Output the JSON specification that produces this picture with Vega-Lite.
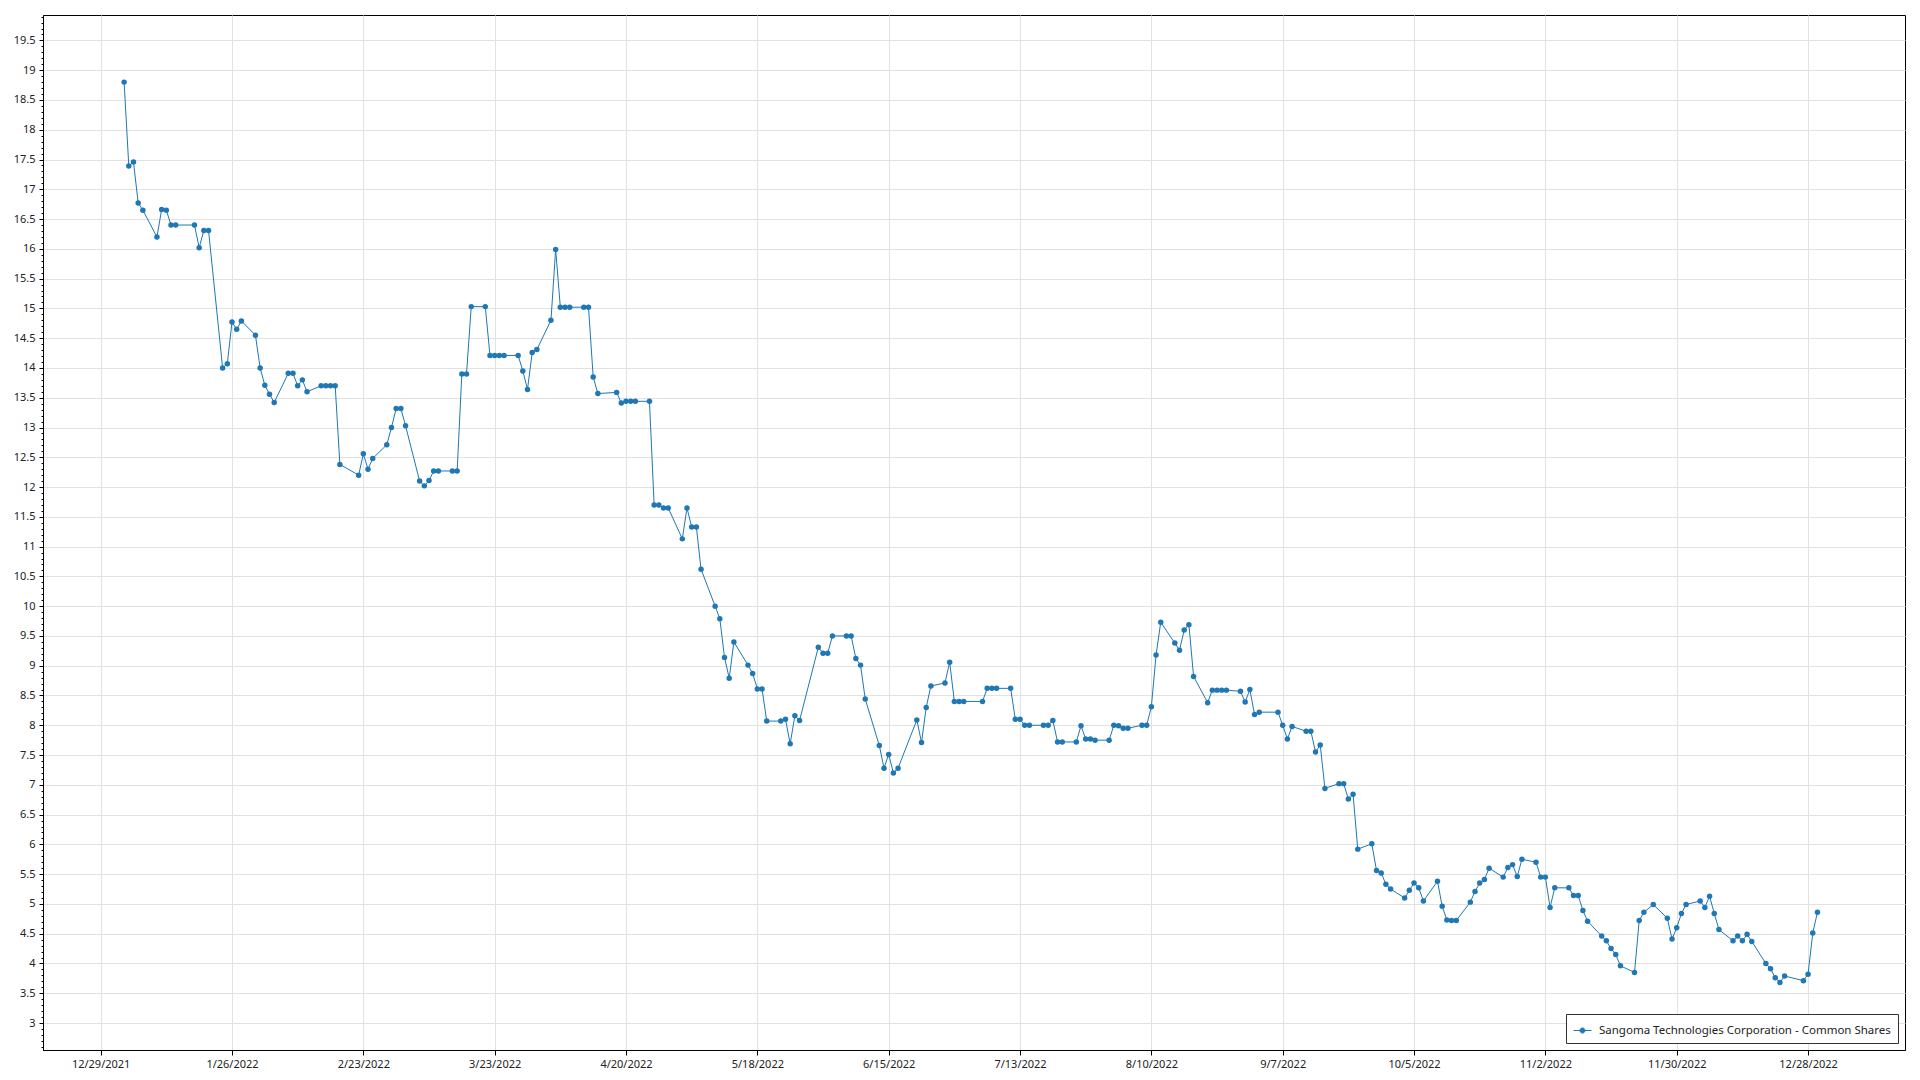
{
  "$schema": "https://vega.github.io/schema/vega-lite/v6.json",
  "width": 1862,
  "height": 1035,
  "autosize": {"type": "none"},
  "padding": {"left": 43, "top": 15, "right": 15, "bottom": 30},
  "background": "white",
  "data": {"values": [
    {"date":"2022-01-03","price":18.80},{"date":"2022-01-04","price":17.39},{"date":"2022-01-05","price":17.46},{"date":"2022-01-06","price":16.77},{"date":"2022-01-07","price":16.65},
    {"date":"2022-01-10","price":16.20},{"date":"2022-01-11","price":16.66},{"date":"2022-01-12","price":16.65},{"date":"2022-01-13","price":16.40},{"date":"2022-01-14","price":16.40},
    {"date":"2022-01-18","price":16.40},{"date":"2022-01-19","price":16.02},{"date":"2022-01-20","price":16.31},{"date":"2022-01-21","price":16.31},
    {"date":"2022-01-24","price":14.00},{"date":"2022-01-25","price":14.07},{"date":"2022-01-26","price":14.77},{"date":"2022-01-27","price":14.65},{"date":"2022-01-28","price":14.79},
    {"date":"2022-01-31","price":14.55},{"date":"2022-02-01","price":14.00},{"date":"2022-02-02","price":13.71},{"date":"2022-02-03","price":13.56},{"date":"2022-02-04","price":13.42},
    {"date":"2022-02-07","price":13.91},{"date":"2022-02-08","price":13.91},{"date":"2022-02-09","price":13.70},{"date":"2022-02-10","price":13.80},{"date":"2022-02-11","price":13.60},
    {"date":"2022-02-14","price":13.70},{"date":"2022-02-15","price":13.70},{"date":"2022-02-16","price":13.70},{"date":"2022-02-17","price":13.70},{"date":"2022-02-18","price":12.38},
    {"date":"2022-02-22","price":12.20},{"date":"2022-02-23","price":12.56},{"date":"2022-02-24","price":12.30},{"date":"2022-02-25","price":12.48},
    {"date":"2022-02-28","price":12.71},{"date":"2022-03-01","price":13.00},{"date":"2022-03-02","price":13.32},{"date":"2022-03-03","price":13.32},{"date":"2022-03-04","price":13.03},
    {"date":"2022-03-07","price":12.10},{"date":"2022-03-08","price":12.02},{"date":"2022-03-09","price":12.11},{"date":"2022-03-10","price":12.27},{"date":"2022-03-11","price":12.27},
    {"date":"2022-03-14","price":12.27},{"date":"2022-03-15","price":12.27},{"date":"2022-03-16","price":13.90},{"date":"2022-03-17","price":13.90},{"date":"2022-03-18","price":15.03},
    {"date":"2022-03-21","price":15.03},{"date":"2022-03-22","price":14.21},{"date":"2022-03-23","price":14.21},{"date":"2022-03-24","price":14.21},{"date":"2022-03-25","price":14.21},
    {"date":"2022-03-28","price":14.21},{"date":"2022-03-29","price":13.95},{"date":"2022-03-30","price":13.64},{"date":"2022-03-31","price":14.26},{"date":"2022-04-01","price":14.31},
    {"date":"2022-04-04","price":14.80},{"date":"2022-04-05","price":15.99},{"date":"2022-04-06","price":15.02},{"date":"2022-04-07","price":15.02},{"date":"2022-04-08","price":15.02},
    {"date":"2022-04-11","price":15.02},{"date":"2022-04-12","price":15.02},{"date":"2022-04-13","price":13.85},{"date":"2022-04-14","price":13.57},
    {"date":"2022-04-18","price":13.59},{"date":"2022-04-19","price":13.41},{"date":"2022-04-20","price":13.44},{"date":"2022-04-21","price":13.44},{"date":"2022-04-22","price":13.44},
    {"date":"2022-04-25","price":13.44},{"date":"2022-04-26","price":11.70},{"date":"2022-04-27","price":11.70},{"date":"2022-04-28","price":11.65},{"date":"2022-04-29","price":11.65},
    {"date":"2022-05-02","price":11.13},{"date":"2022-05-03","price":11.65},{"date":"2022-05-04","price":11.33},{"date":"2022-05-05","price":11.33},{"date":"2022-05-06","price":10.62},
    {"date":"2022-05-09","price":10.00},{"date":"2022-05-10","price":9.79},{"date":"2022-05-11","price":9.14},{"date":"2022-05-12","price":8.79},{"date":"2022-05-13","price":9.40},
    {"date":"2022-05-16","price":9.01},{"date":"2022-05-17","price":8.87},{"date":"2022-05-18","price":8.61},{"date":"2022-05-19","price":8.61},{"date":"2022-05-20","price":8.07},
    {"date":"2022-05-23","price":8.07},{"date":"2022-05-24","price":8.10},{"date":"2022-05-25","price":7.69},{"date":"2022-05-26","price":8.16},{"date":"2022-05-27","price":8.08},
    {"date":"2022-05-31","price":9.31},{"date":"2022-06-01","price":9.21},{"date":"2022-06-02","price":9.21},{"date":"2022-06-03","price":9.50},
    {"date":"2022-06-06","price":9.50},{"date":"2022-06-07","price":9.50},{"date":"2022-06-08","price":9.12},{"date":"2022-06-09","price":9.01},{"date":"2022-06-10","price":8.44},
    {"date":"2022-06-13","price":7.66},{"date":"2022-06-14","price":7.28},{"date":"2022-06-15","price":7.51},{"date":"2022-06-16","price":7.20},{"date":"2022-06-17","price":7.28},
    {"date":"2022-06-21","price":8.09},{"date":"2022-06-22","price":7.71},{"date":"2022-06-23","price":8.30},{"date":"2022-06-24","price":8.66},
    {"date":"2022-06-27","price":8.71},{"date":"2022-06-28","price":9.06},{"date":"2022-06-29","price":8.40},{"date":"2022-06-30","price":8.40},{"date":"2022-07-01","price":8.40},
    {"date":"2022-07-05","price":8.40},{"date":"2022-07-06","price":8.62},{"date":"2022-07-07","price":8.62},{"date":"2022-07-08","price":8.62},
    {"date":"2022-07-11","price":8.62},{"date":"2022-07-12","price":8.10},{"date":"2022-07-13","price":8.10},{"date":"2022-07-14","price":8.00},{"date":"2022-07-15","price":8.00},
    {"date":"2022-07-18","price":8.00},{"date":"2022-07-19","price":8.00},{"date":"2022-07-20","price":8.08},{"date":"2022-07-21","price":7.72},{"date":"2022-07-22","price":7.72},
    {"date":"2022-07-25","price":7.72},{"date":"2022-07-26","price":7.99},{"date":"2022-07-27","price":7.77},{"date":"2022-07-28","price":7.77},{"date":"2022-07-29","price":7.75},
    {"date":"2022-08-01","price":7.75},{"date":"2022-08-02","price":8.00},{"date":"2022-08-03","price":7.99},{"date":"2022-08-04","price":7.95},{"date":"2022-08-05","price":7.95},
    {"date":"2022-08-08","price":8.00},{"date":"2022-08-09","price":8.00},{"date":"2022-08-10","price":8.31},{"date":"2022-08-11","price":9.18},{"date":"2022-08-12","price":9.73},
    {"date":"2022-08-15","price":9.38},{"date":"2022-08-16","price":9.26},{"date":"2022-08-17","price":9.60},{"date":"2022-08-18","price":9.69},{"date":"2022-08-19","price":8.82},
    {"date":"2022-08-22","price":8.38},{"date":"2022-08-23","price":8.59},{"date":"2022-08-24","price":8.59},{"date":"2022-08-25","price":8.59},{"date":"2022-08-26","price":8.59},
    {"date":"2022-08-29","price":8.57},{"date":"2022-08-30","price":8.39},{"date":"2022-08-31","price":8.60},{"date":"2022-09-01","price":8.18},{"date":"2022-09-02","price":8.22},
    {"date":"2022-09-06","price":8.22},{"date":"2022-09-07","price":8.00},{"date":"2022-09-08","price":7.77},{"date":"2022-09-09","price":7.98},
    {"date":"2022-09-12","price":7.90},{"date":"2022-09-13","price":7.90},{"date":"2022-09-14","price":7.55},{"date":"2022-09-15","price":7.67},{"date":"2022-09-16","price":6.94},
    {"date":"2022-09-19","price":7.02},{"date":"2022-09-20","price":7.02},{"date":"2022-09-21","price":6.76},{"date":"2022-09-22","price":6.84},{"date":"2022-09-23","price":5.92},
    {"date":"2022-09-26","price":6.01},{"date":"2022-09-27","price":5.56},{"date":"2022-09-28","price":5.52},{"date":"2022-09-29","price":5.33},{"date":"2022-09-30","price":5.25},
    {"date":"2022-10-03","price":5.10},{"date":"2022-10-04","price":5.23},{"date":"2022-10-05","price":5.35},{"date":"2022-10-06","price":5.27},{"date":"2022-10-07","price":5.05},
    {"date":"2022-10-10","price":5.38},{"date":"2022-10-11","price":4.96},{"date":"2022-10-12","price":4.73},{"date":"2022-10-13","price":4.72},{"date":"2022-10-14","price":4.72},
    {"date":"2022-10-17","price":5.03},{"date":"2022-10-18","price":5.21},{"date":"2022-10-19","price":5.35},{"date":"2022-10-20","price":5.41},{"date":"2022-10-21","price":5.60},
    {"date":"2022-10-24","price":5.45},{"date":"2022-10-25","price":5.61},{"date":"2022-10-26","price":5.66},{"date":"2022-10-27","price":5.46},{"date":"2022-10-28","price":5.75},
    {"date":"2022-10-31","price":5.70},{"date":"2022-11-01","price":5.45},{"date":"2022-11-02","price":5.45},{"date":"2022-11-03","price":4.94},{"date":"2022-11-04","price":5.27},
    {"date":"2022-11-07","price":5.27},{"date":"2022-11-08","price":5.14},{"date":"2022-11-09","price":5.14},{"date":"2022-11-10","price":4.89},{"date":"2022-11-11","price":4.71},
    {"date":"2022-11-14","price":4.46},{"date":"2022-11-15","price":4.38},{"date":"2022-11-16","price":4.25},{"date":"2022-11-17","price":4.15},{"date":"2022-11-18","price":3.96},
    {"date":"2022-11-21","price":3.85},{"date":"2022-11-22","price":4.72},{"date":"2022-11-23","price":4.86},{"date":"2022-11-25","price":4.99},
    {"date":"2022-11-28","price":4.76},{"date":"2022-11-29","price":4.41},{"date":"2022-11-30","price":4.60},{"date":"2022-12-01","price":4.84},{"date":"2022-12-02","price":4.99},
    {"date":"2022-12-05","price":5.05},{"date":"2022-12-06","price":4.94},{"date":"2022-12-07","price":5.13},{"date":"2022-12-08","price":4.84},{"date":"2022-12-09","price":4.57},
    {"date":"2022-12-12","price":4.38},{"date":"2022-12-13","price":4.46},{"date":"2022-12-14","price":4.38},{"date":"2022-12-15","price":4.49},{"date":"2022-12-16","price":4.37},
    {"date":"2022-12-19","price":4.00},{"date":"2022-12-20","price":3.91},{"date":"2022-12-21","price":3.76},{"date":"2022-12-22","price":3.68},{"date":"2022-12-23","price":3.79},
    {"date":"2022-12-27","price":3.71},{"date":"2022-12-28","price":3.82},{"date":"2022-12-29","price":4.51},{"date":"2022-12-30","price":4.86}
  ]},
  "mark": {"type": "line", "strokeWidth": 1, "point": {"filled": true, "size": 30, "opacity": 1}},
  "encoding": {
    "x": {
      "field": "date", "type": "temporal", "title": null,
      "scale": {"type": "utc", "nice": false, "domain": [
        {"year": 2021, "month": 12, "date": 16, "hours": 17, "utc": true},
        {"year": 2023, "month": 1, "date": 17, "hours": 16, "utc": true}
      ]},
      "axis": {
        "values": [
          {"year": 2021, "month": 12, "date": 29, "utc": true},
          {"year": 2022, "month": 1, "date": 26, "utc": true},
          {"year": 2022, "month": 2, "date": 23, "utc": true},
          {"year": 2022, "month": 3, "date": 23, "utc": true},
          {"year": 2022, "month": 4, "date": 20, "utc": true},
          {"year": 2022, "month": 5, "date": 18, "utc": true},
          {"year": 2022, "month": 6, "date": 15, "utc": true},
          {"year": 2022, "month": 7, "date": 13, "utc": true},
          {"year": 2022, "month": 8, "date": 10, "utc": true},
          {"year": 2022, "month": 9, "date": 7, "utc": true},
          {"year": 2022, "month": 10, "date": 5, "utc": true},
          {"year": 2022, "month": 11, "date": 2, "utc": true},
          {"year": 2022, "month": 11, "date": 30, "utc": true},
          {"year": 2022, "month": 12, "date": 28, "utc": true}
        ],
        "format": "%-m/%-d/%Y",
        "labelFlush": false,
        "labelOverlap": false,
        "tickSize": 5,
        "labelPadding": 3
      }
    },
    "y": {
      "field": "price", "type": "quantitative", "title": null,
      "scale": {"domain": [2.547, 19.927], "nice": false, "zero": false},
      "axis": {
        "values": [2.6,2.7,2.8,2.9,3,3.1,3.2,3.3,3.4,3.5,3.6,3.7,3.8,3.9,4,4.1,4.2,4.3,4.4,4.5,4.6,4.7,4.8,4.9,5,5.1,5.2,5.3,5.4,5.5,5.6,5.7,5.8,5.9,6,6.1,6.2,6.3,6.4,6.5,6.6,6.7,6.8,6.9,7,7.1,7.2,7.3,7.4,7.5,7.6,7.7,7.8,7.9,8,8.1,8.2,8.3,8.4,8.5,8.6,8.7,8.8,8.9,9,9.1,9.2,9.3,9.4,9.5,9.6,9.7,9.8,9.9,10,10.1,10.2,10.3,10.4,10.5,10.6,10.7,10.8,10.9,11,11.1,11.2,11.3,11.4,11.5,11.6,11.7,11.8,11.9,12,12.1,12.2,12.3,12.4,12.5,12.6,12.7,12.8,12.9,13,13.1,13.2,13.3,13.4,13.5,13.6,13.7,13.8,13.9,14,14.1,14.2,14.3,14.4,14.5,14.6,14.7,14.8,14.9,15,15.1,15.2,15.3,15.4,15.5,15.6,15.7,15.8,15.9,16,16.1,16.2,16.3,16.4,16.5,16.6,16.7,16.8,16.9,17,17.1,17.2,17.3,17.4,17.5,17.6,17.7,17.8,17.9,18,18.1,18.2,18.3,18.4,18.5,18.6,18.7,18.8,18.9,19,19.1,19.2,19.3,19.4,19.5,19.6,19.7,19.8,19.9],
        "labelExpr": "abs(datum.value*2 - round(datum.value*2)) < 0.01 ? format(datum.value, '~g') : ''",
        "labelOverlap": false,
        "labelPadding": 4,
        "tickSize": {"condition": {"test": "abs(datum.value*2 - round(datum.value*2)) < 0.01", "value": 4}, "value": 2},
        "gridOpacity": {"condition": {"test": "abs(datum.value*2 - round(datum.value*2)) < 0.01", "value": 1}, "value": 0}
      }
    },
    "color": {
      "datum": "Sangoma Technologies Corporation - Common Shares",
      "type": "nominal",
      "scale": {"range": ["#1f77b4"]},
      "legend": {
        "title": null,
        "orient": "bottom-right",
        "offset": 7,
        "fillColor": "white",
        "strokeColor": "#333333",
        "padding": 7,
        "labelFontSize": 11.5,
        "labelFont": "Noto Sans",
        "labelColor": "#222222",
        "labelLimit": 500,
        "symbolType": "M-1,0L1,0M-0.28,0A0.28,0.28,0,1,1,0.28,0A0.28,0.28,0,1,1,-0.28,0Z",
        "symbolSize": 324,
        "symbolStrokeWidth": 1,
        "symbolFillColor": "#1f77b4",
        "symbolStrokeColor": "#1f77b4",
        "labelOffset": 7
      }
    }
  },
  "config": {
    "view": {"stroke": "#000000", "strokeWidth": 1},
    "axis": {
      "domainColor": "#000000",
      "tickColor": "#000000",
      "gridColor": "#e2e2e2",
      "grid": true,
      "labelFont": "Noto Sans",
      "labelFontSize": 11,
      "labelColor": "#222222"
    }
  }
}
